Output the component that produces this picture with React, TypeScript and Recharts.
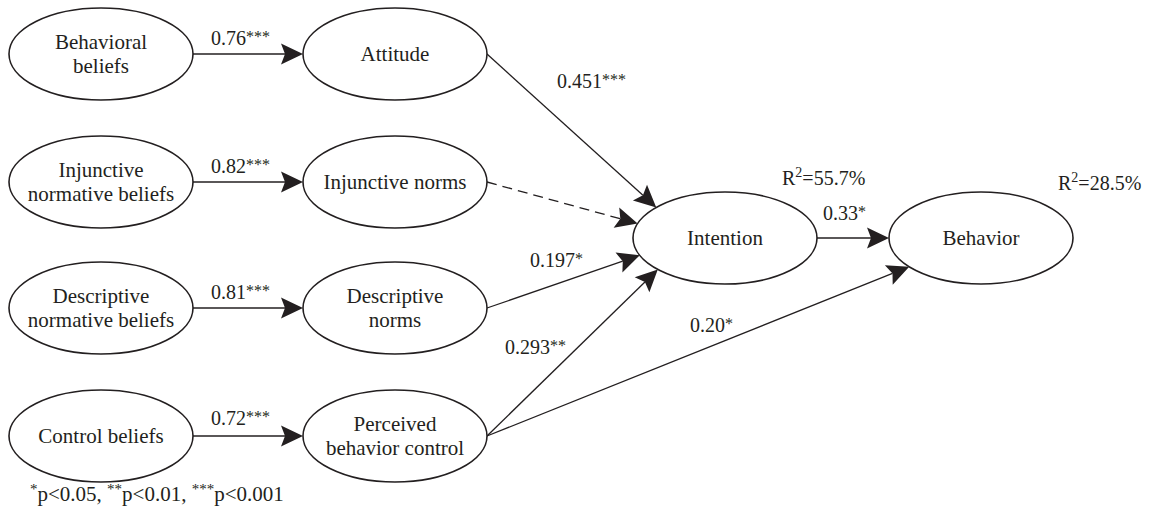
import React from "react"
import { ScatterChart, Scatter, XAxis, YAxis, ReferenceLine } from "recharts"

// constructs of the path model, the text that sits inside each ellipse
const nodeIds = ["BB", "AT", "INB", "IN", "DNB", "DN", "CB", "PBC", "INT", "BEH"]
const nodeText = [
  ["Behavioral", "beliefs"],
  ["Attitude"],
  ["Injunctive", "normative beliefs"],
  ["Injunctive norms"],
  ["Descriptive", "normative beliefs"],
  ["Descriptive", "norms"],
  ["Control beliefs"],
  ["Perceived", "behavior control"],
  ["Intention"],
  ["Behavior"],
]

// paths: source, target, coefficient, significance stars (empty coef = n.s., drawn dashed)
const pathFrom = ["BB", "INB", "DNB", "CB", "AT", "IN", "DN", "PBC", "INT", "PBC"]
const pathTo = ["AT", "IN", "DN", "PBC", "INT", "INT", "INT", "INT", "BEH", "BEH"]
const pathCoef = ["0.76", "0.82", "0.81", "0.72", "0.451", "", "0.197", "0.293", "0.33", "0.20"]
const pathStars = ["***", "***", "***", "***", "***", "", "*", "**", "*", "*"]

const r2Node = ["INT", "BEH"]
const r2Value = ["55.7%", "28.5%"]

const footnote = [
  ["*", "p<0.05, "],
  ["**", "p<0.01, "],
  ["***", "p<0.001"],
]

// diagram layout (in the chart's own 0..1149 x 0..521 coordinate space)
const W = 1149
const H = 521
const RX = 92
const RY = 46
const nodeX = [101, 395, 101, 395, 101, 395, 101, 395, 725, 981]
const nodeY = [54, 54, 182, 182, 308, 308, 436, 436, 238, 238]
const coefX = [211, 211, 211, 211, 557, 0, 530, 505, 823, 690]
const coefY = [45, 173, 299, 425, 88, 0, 267, 354, 220, 332]
const r2X = [782, 1058]
const r2Y = [185, 190]
const aimShift: Record<string, number> = { INT: 35 }

const INK = "#231f20"
const FONT = "'Liberation Serif', 'Times New Roman', serif"

const nodes = nodeIds.map((id, i) => ({ id, lines: nodeText[i], x: nodeX[i], y: nodeY[i] }))
const byId = (id: string) => nodes[nodeIds.indexOf(id)]

function hitEllipse(p0: { x: number; y: number }, aim: { x: number; y: number }, c: { x: number; y: number }) {
  const dx = aim.x - p0.x
  const dy = aim.y - p0.y
  const ux = (p0.x - c.x) / RX
  const uy = (p0.y - c.y) / RY
  const vx = dx / RX
  const vy = dy / RY
  const a = vx * vx + vy * vy
  const b = 2 * (ux * vx + uy * vy)
  const cc = ux * ux + uy * uy - 1
  const t = (-b - Math.sqrt(Math.max(0, b * b - 4 * a * cc))) / (2 * a)
  return { x: p0.x + t * dx, y: p0.y + t * dy }
}

const edges = pathFrom.map((f, i) => {
  const s = byId(f)
  const t = byId(pathTo[i])
  const start = { x: s.x + RX, y: s.y }
  const aim = { x: t.x - (aimShift[t.id] ?? 0), y: t.y }
  const end = hitEllipse(start, aim, t)
  return { key: f + "-" + pathTo[i], start, end, dashed: pathCoef[i] === "" }
})

const coefLabels = pathCoef
  .map((c, i) => ({ kind: "coef", x: coefX[i], y: coefY[i], main: c, sup: pathStars[i] }))
  .filter((d) => d.main !== "")
const r2Labels = r2Node.map((_, i) => ({ kind: "r2", x: r2X[i], y: r2Y[i], main: r2Value[i], sup: "" }))

function ArrowLine(props: any) {
  const { x1, y1, x2, y2, strokeDasharray } = props
  const ang = Math.atan2(y2 - y1, x2 - x1)
  const len = 22
  const half = 10.5
  const ca = Math.cos(ang)
  const sa = Math.sin(ang)
  const bx = x2 - len * ca
  const by = y2 - len * sa
  const nx = x2 - (len - 4) * ca
  const ny = y2 - (len - 4) * sa
  const pts = [
    [x2, y2],
    [bx - half * sa, by + half * ca],
    [nx, ny],
    [bx + half * sa, by - half * ca],
  ]
    .map((p) => p.join(","))
    .join(" ")
  return (
    <g>
      <line x1={x1} y1={y1} x2={nx} y2={ny} stroke={INK} strokeWidth={1.3} strokeDasharray={strokeDasharray} />
      <polygon points={pts} fill={INK} stroke="none" />
    </g>
  )
}

function NodeShape(props: any) {
  const { cx, cy, payload } = props
  const lines: string[] = payload.lines
  const gap = 24
  return (
    <g>
      <ellipse cx={cx} cy={cy} rx={RX} ry={RY} fill="#fff" stroke={INK} strokeWidth={1.6} />
      {lines.map((ln, i) => (
        <text
          key={i}
          x={cx}
          y={cy + 7 + (i - (lines.length - 1) / 2) * gap}
          textAnchor="middle"
          fontFamily={FONT}
          fontSize={21}
          fill={INK}
        >
          {ln}
        </text>
      ))}
    </g>
  )
}

function LabelShape(props: any) {
  const { cx, cy, payload } = props
  if (payload.kind === "r2") {
    return (
      <text x={cx} y={cy} fontFamily={FONT} fontSize={20} fill={INK}>
        R
        <tspan fontSize={14} dy={-8}>2</tspan>
        <tspan dy={8}>={payload.main}</tspan>
      </text>
    )
  }
  return (
    <text x={cx} y={cy} fontFamily={FONT} fontSize={20} fill={INK}>
      {payload.main}
      <tspan fontSize={16} dy={-3}>{payload.sup}</tspan>
    </text>
  )
}

export default function App() {
  return (
    <div style={{ position: "absolute", left: 0, top: 0, width: W, height: H, background: "#fff" }}>
      <ScatterChart width={W} height={H} margin={{ top: 0, right: 0, bottom: 0, left: 0 }}>
        <XAxis type="number" dataKey="x" domain={[0, W]} allowDataOverflow hide />
        <YAxis type="number" dataKey="y" domain={[0, H]} allowDataOverflow reversed hide />
        {edges.map((e) => (
          <ReferenceLine
            key={e.key}
            segment={[e.start, e.end]}
            ifOverflow="visible"
            strokeDasharray={e.dashed ? "10 6" : undefined}
            shape={ArrowLine}
          />
        ))}
        <Scatter data={nodes} shape={NodeShape} isAnimationActive={false} />
        <Scatter data={[...coefLabels, ...r2Labels]} shape={LabelShape} isAnimationActive={false} />
      </ScatterChart>
      <svg width={W} height={51} style={{ position: "absolute", left: 0, top: 470 }}>
        <text x={30} y={31} fontFamily={FONT} fontSize={21} fill={INK}>
          {footnote.map(([s, t], i) => (
            <React.Fragment key={i}>
              <tspan fontSize={15} dy={-7}>{s}</tspan>
              <tspan dy={7}>{t}</tspan>
            </React.Fragment>
          ))}
        </text>
      </svg>
    </div>
  )
}
